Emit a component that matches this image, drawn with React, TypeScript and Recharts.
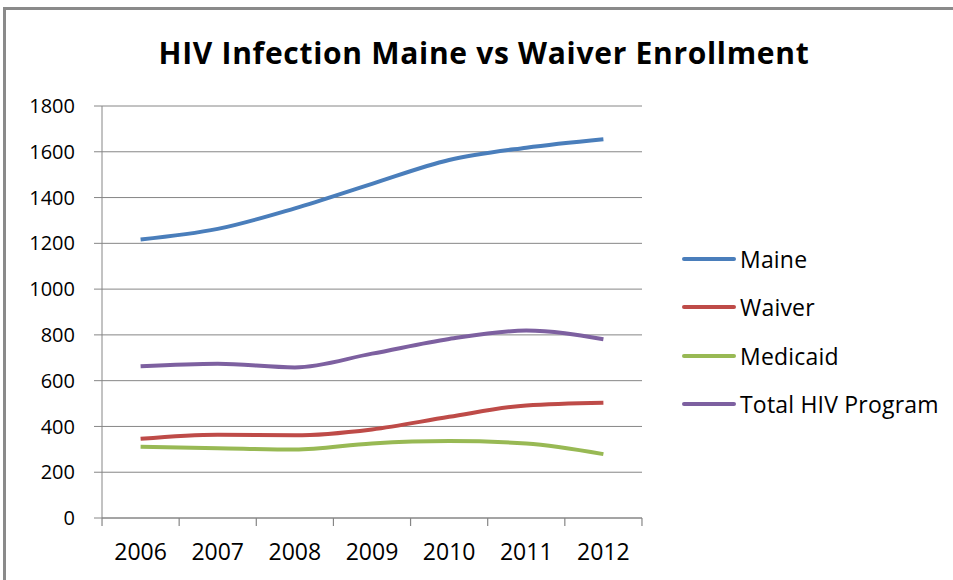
import { CartesianGrid, Legend, Line, LineChart, XAxis, YAxis } from 'recharts';

const years = ['2006', '2007', '2008', '2009', '2010', '2011', '2012'];
const maine = [1217, 1263, 1353, 1460, 1564, 1618, 1655];
const waiver = [346, 364, 361, 387, 442, 492, 504];
const medicaid = [311, 305, 299, 326, 336, 326, 279];
const totalHiv = [663, 674, 658, 718, 782, 819, 781];
const yTicks = [0, 200, 400, 600, 800, 1000, 1200, 1400, 1600, 1800];

const series = [
  { key: 'Maine', color: '#4A7EBB' },
  { key: 'Waiver', color: '#BE4B48' },
  { key: 'Medicaid', color: '#98B954' },
  { key: 'Total HIV Program', color: '#7D60A0' },
];

const data = years.map((year, i) => ({
  year,
  Maine: maine[i],
  Waiver: waiver[i],
  Medicaid: medicaid[i],
  'Total HIV Program': totalHiv[i],
}));

const font = '"Open Sans", sans-serif';
const gray = '#868686';
const xTickMargin = 26;

// year label centred in its band, with Excel-style tick marks on the band edges
const YearTick = (props: any) => {
  const { x, y, payload, width, visibleTicksCount, index } = props;
  const count = visibleTicksCount || years.length;
  const half = (Number(width) || 540) / count / 2;
  const axisY = y - xTickMargin;
  return (
    <g>
      <line x1={x - half} x2={x - half} y1={axisY} y2={axisY + 8} stroke={gray} strokeWidth={1.2} />
      {index === count - 1 && (
        <line x1={x + half} x2={x + half} y1={axisY} y2={axisY + 8} stroke={gray} strokeWidth={1.2} />
      )}
      <text x={x} y={y} dy="0.71em" textAnchor="middle" fill="#000" fontFamily={font} fontSize={23}>
        {payload.value}
      </text>
    </g>
  );
};

const renderLegend = () => (
  <div style={{ fontFamily: font, fontSize: 23, letterSpacing: 0.2, color: '#000' }}>
    {series.map((s) => (
      <div key={s.key} style={{ display: 'flex', alignItems: 'center', height: 48.3 }}>
        <div style={{ width: 54, height: 4, borderRadius: 2, background: s.color, marginRight: 4 }} />
        <span>{s.key}</span>
      </div>
    ))}
  </div>
);

export default function App() {
  return (
    <div style={{ position: 'absolute', left: 0, top: 0, width: 953, height: 580, overflow: 'hidden', background: '#fff' }}>
      <div
        style={{
          position: 'absolute',
          left: 3,
          top: 7,
          width: 1000,
          height: 700,
          borderLeft: '3px solid #8a8a8a',
          borderTop: '3px solid #8a8a8a',
        }}
      />
      <div
        style={{
          position: 'absolute',
          left: 484,
          top: 52,
          transform: 'translate(-50%, -50%)',
          whiteSpace: 'nowrap',
          fontFamily: font,
          fontWeight: 700,
          fontSize: 30,
          letterSpacing: 0.7,
          color: '#000',
        }}
      >
        HIV Infection Maine vs Waiver Enrollment
      </div>
      <div style={{ position: 'absolute', left: 0, top: 0 }}>
        <LineChart width={953} height={580} data={data} margin={{ top: 106, right: 311, bottom: 0, left: 0 }}>
          <CartesianGrid vertical={false} stroke={gray} strokeWidth={1} />
          <XAxis
            dataKey="year"
            height={62}
            padding={{ left: 38.6, right: 38.6 }}
            tickLine={false}
            tickSize={0}
            tickMargin={xTickMargin}
            axisLine={{ stroke: gray }}
            tick={<YearTick />}
          />
          <YAxis
            width={102}
            domain={[0, 1800]}
            ticks={yTicks}
            tickSize={8}
            tickMargin={19}
            tickLine={{ stroke: gray }}
            axisLine={{ stroke: gray }}
            tick={{ fill: '#000', fontFamily: font, fontSize: 20 }}
          />
          {series.map((s) => (
            <Line
              key={s.key}
              type="monotone"
              dataKey={s.key}
              stroke={s.color}
              strokeWidth={4}
              dot={false}
              activeDot={false}
              isAnimationActive={false}
            />
          ))}
          <Legend
            verticalAlign="middle"
            content={renderLegend}
            wrapperStyle={{ left: 682, top: 235, width: 270 }}
          />
        </LineChart>
      </div>
    </div>
  );
}
